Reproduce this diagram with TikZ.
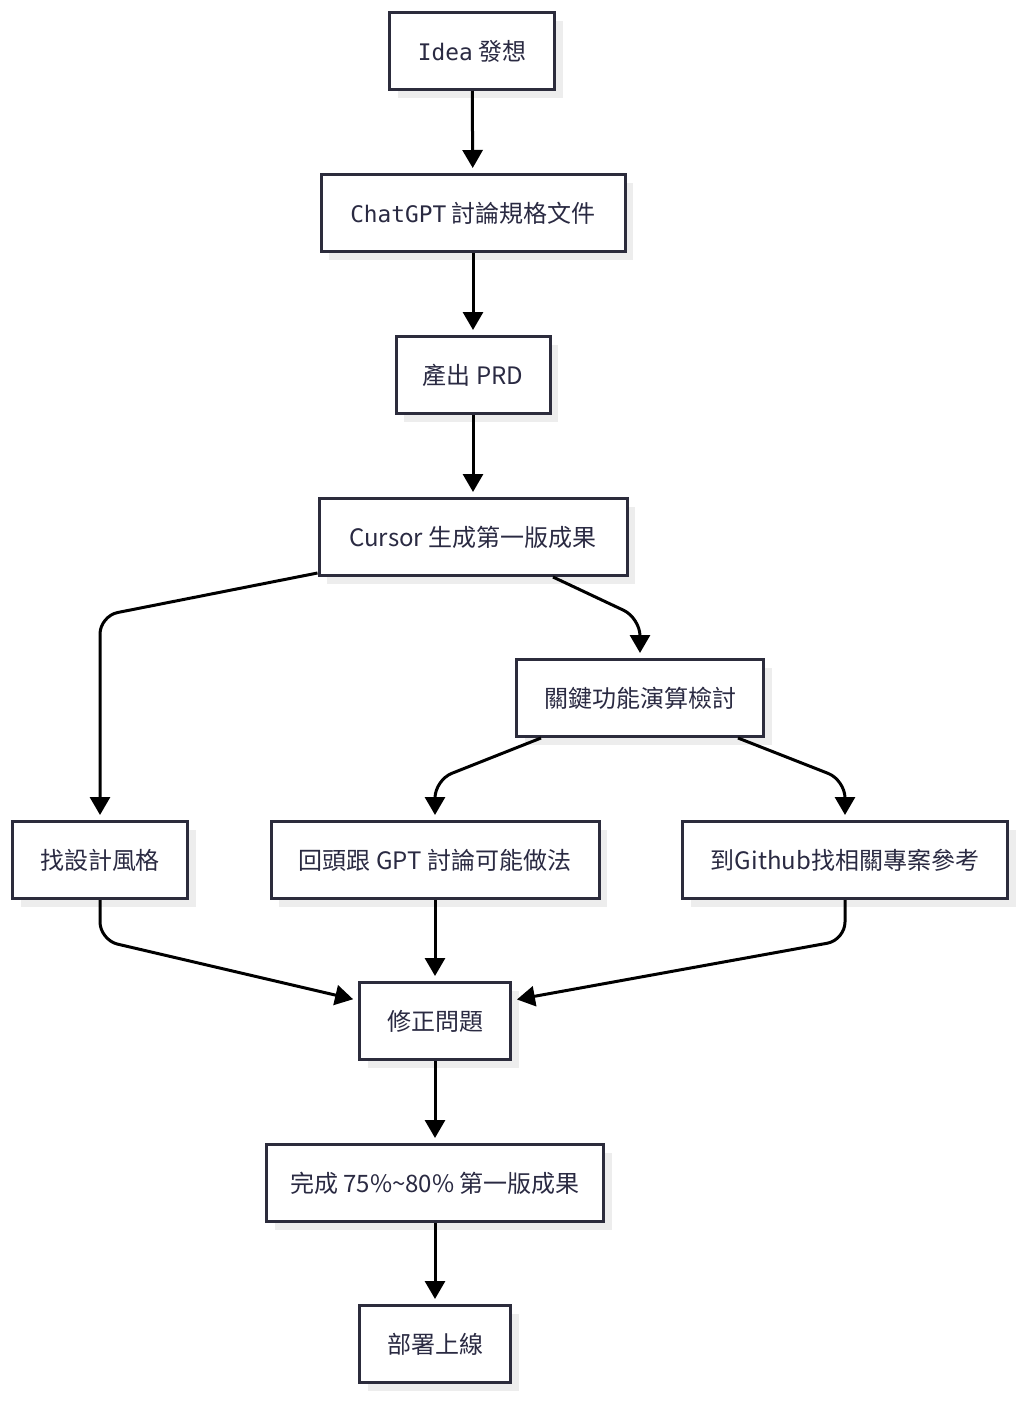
\documentclass[tikz,border=0pt]{standalone}
\usepackage{fontspec}
\setmainfont{Noto Sans CJK TC}
\newfontfamily\plexmono{DejaVu Sans Mono}[Scale=0.95]
\usetikzlibrary{arrows.meta,shadows,calc}
\definecolor{boxline}{HTML}{2C2C3C}
\definecolor{boxtext}{HTML}{2A2A42}
\tikzset{
  box/.style={draw=boxline, line width=3pt, fill=white, text=boxtext,
    minimum height=77pt, inner sep=0pt,
    font=\fontsize{24}{29}\selectfont,
    drop shadow={shadow xshift=8pt, shadow yshift=-8pt, fill=black!7, opacity=1}},
  flow/.style={line width=3pt, black, rounded corners=18pt, shorten >=5pt,
    -{Triangle[length=18pt,width=20pt]}}
}
\begin{document}
\begin{tikzpicture}[x=1pt,y=-1pt]
\useasboundingbox (0,0) rectangle (1024,1401);

\node [box, minimum width=165pt] (idea) at (472,51) {{\plexmono Idea} 發想};
\node [box, minimum width=304pt] (chat) at (473,213) {{\plexmono ChatGPT} 討論規格文件};
\node [box, minimum width=154pt] (prd) at (473,375) {產出 PRD};
\node [box, minimum width=308pt] (cursor) at (473,537) {Cursor 生成第一版成果};
\node [box, minimum width=247pt] (review) at (640,698) {關鍵功能演算檢討};
\node [box, minimum width=175pt] (style) at (100,860) {找設計風格};
\node [box, minimum width=328pt] (gpt) at (435,860) {回頭跟 GPT 討論可能做法};
\node [box, minimum width=325pt] (github) at (845,860) {到Github找相關專案參考};
\node [box, minimum width=151pt] (fix) at (435,1021) {修正問題};
\node [box, minimum width=337pt] (done) at (435,1183) {完成 75\%\textasciitilde80\% 第一版成果};
\node [box, minimum width=151pt] (deploy) at (435,1344) {部署上線};

\draw [flow] (idea) -- (chat);
\draw [flow] (chat) -- (prd);
\draw [flow] (prd) -- (cursor);

\draw [flow] ($(cursor.south west)+(0,-4)$) -- (100,616) -- (style.north);
\draw [flow] ($(cursor.south)+(80,0)$) -- (640,618) -- (review.north);

\draw [flow] ($(review.south)+(-99,0)$) -- (435,780) -- (gpt.north);
\draw [flow] ($(review.south)+(98,0)$) -- (845,780) -- (github.north);

\draw [flow] (style.south) -- (100,940) -- (fix.165);
\draw [flow] (gpt) -- (fix);
\draw [flow] (github.south) -- (845,940) -- (fix.15);

\draw [flow] (fix) -- (done);
\draw [flow] (done) -- (deploy);

\end{tikzpicture}
\end{document}
